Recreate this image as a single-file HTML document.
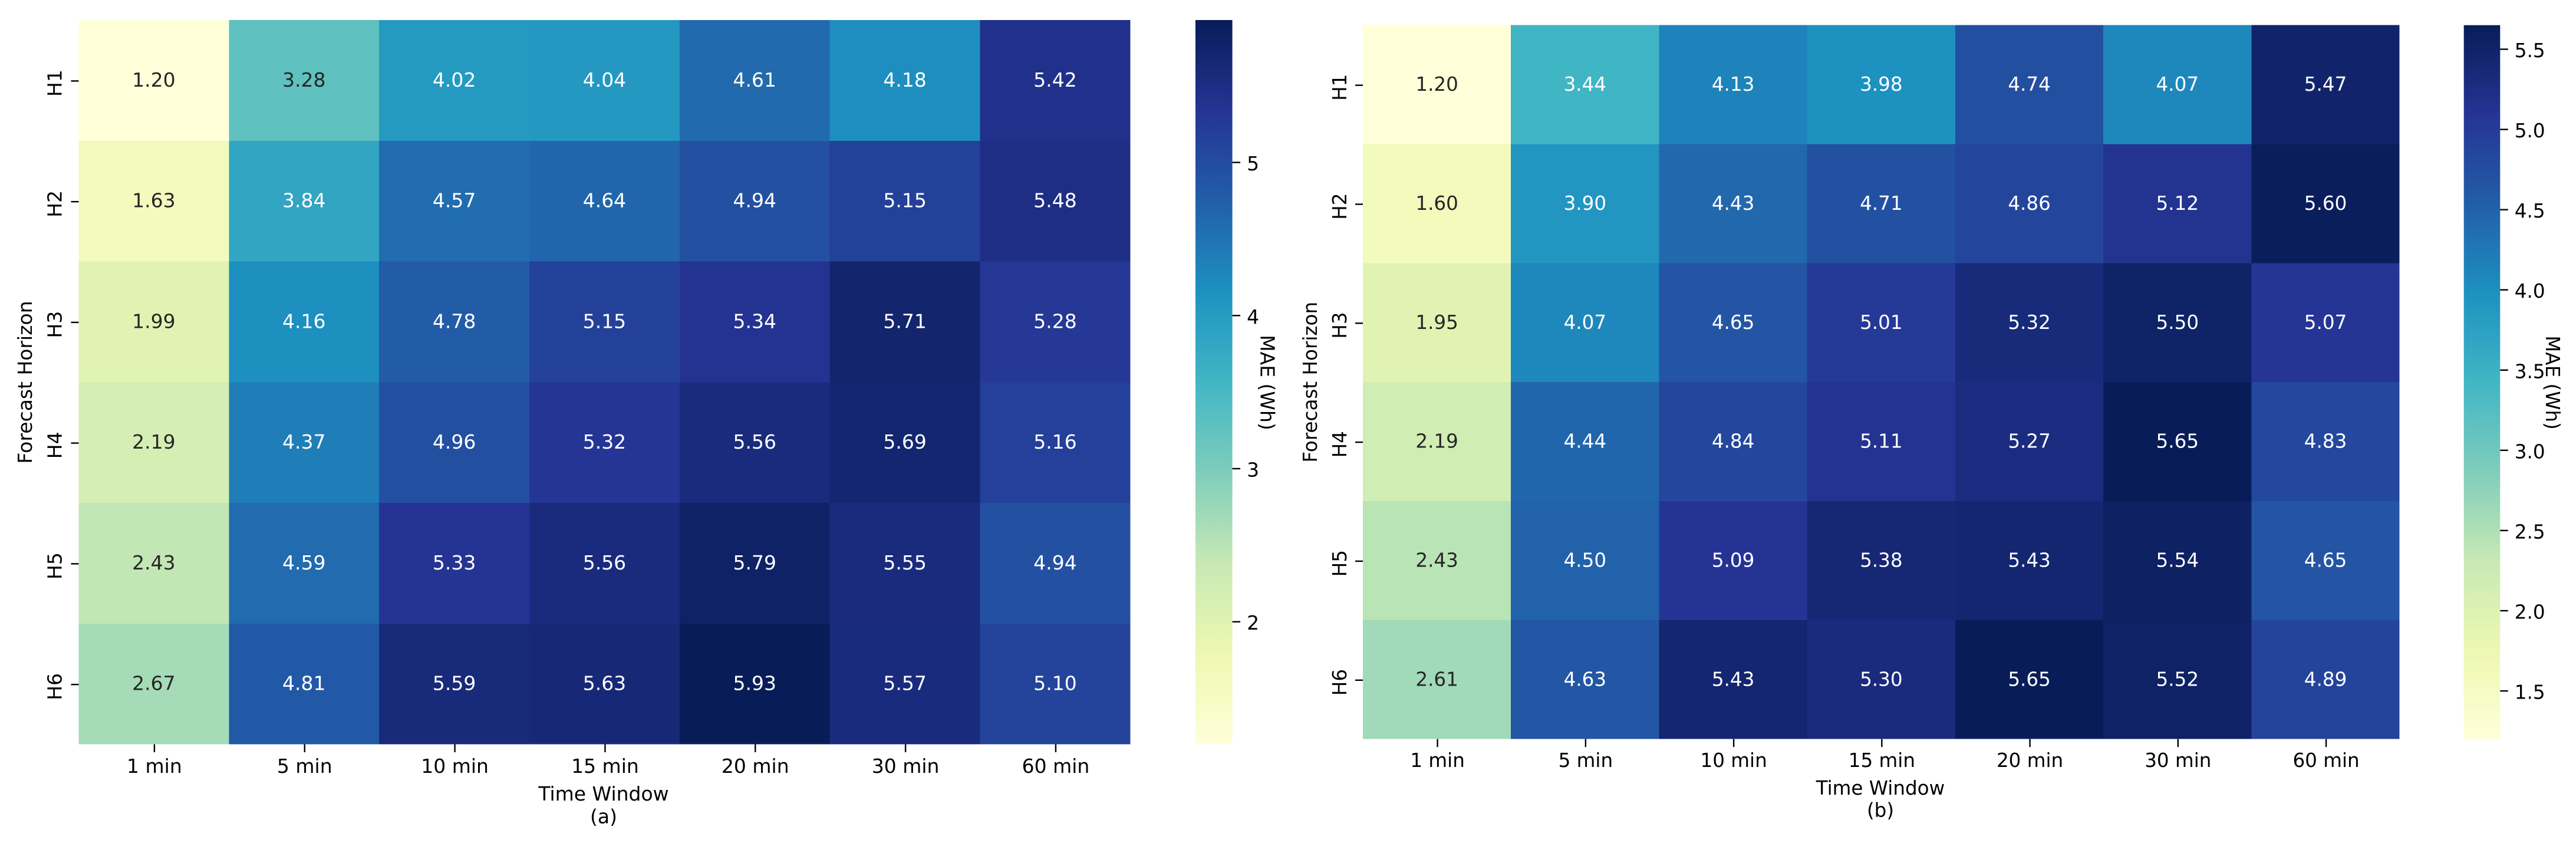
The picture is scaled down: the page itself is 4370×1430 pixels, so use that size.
<!DOCTYPE html>
<html lang="en">
<head>
<meta charset="utf-8">
<title>MAE heatmaps by forecast horizon and time window</title>
<style>
html,body{margin:0;padding:0;background:#fff;}
svg{display:block;}
text{font-family:"DejaVu Sans","Liberation Sans",sans-serif;fill:#000;}
</style>
</head>
<body>
<svg id="figure" xmlns="http://www.w3.org/2000/svg" width="4370" height="1430" viewBox="0 0 4370 1430">
  <rect x="0" y="0" width="4370" height="1430" fill="#ffffff"/>
  <defs>
    <linearGradient id="ylgnbu-gradient" x1="0" y1="1" x2="0" y2="0"></linearGradient>
  </defs>
  <g id="panel-a"></g>
  <g id="panel-b"></g>

  <text font-size="33" text-anchor="middle" transform="translate(54 648.5) rotate(-90)">Forecast Horizon</text>
  <text font-size="33" text-anchor="middle" x="1024" y="1358">Time Window</text>
  <text font-size="33" text-anchor="middle" x="1024" y="1396.7">(a)</text>
  <text font-size="33" text-anchor="middle" transform="translate(2138.7 649) rotate(90)">MAE (Wh)</text>

  <text font-size="32.6" text-anchor="middle" transform="translate(2234 648.3) rotate(-90)">Forecast Horizon</text>
  <text font-size="32.6" text-anchor="middle" x="3190" y="1348">Time Window</text>
  <text font-size="32.6" text-anchor="middle" x="3190" y="1385.7">(b)</text>
  <text font-size="32.6" text-anchor="middle" transform="translate(4319 649) rotate(90)">MAE (Wh)</text>
</svg>

<script>
const windows = ["1 min", "5 min", "10 min", "15 min", "20 min", "30 min", "60 min"];
const horizons = ["H1", "H2", "H3", "H4", "H5", "H6"];

const maeA = [
  [1.20, 3.28, 4.02, 4.04, 4.61, 4.18, 5.42],
  [1.63, 3.84, 4.57, 4.64, 4.94, 5.15, 5.48],
  [1.99, 4.16, 4.78, 5.15, 5.34, 5.71, 5.28],
  [2.19, 4.37, 4.96, 5.32, 5.56, 5.69, 5.16],
  [2.43, 4.59, 5.33, 5.56, 5.79, 5.55, 4.94],
  [2.67, 4.81, 5.59, 5.63, 5.93, 5.57, 5.10]
];
const maeB = [
  [1.20, 3.44, 4.13, 3.98, 4.74, 4.07, 5.47],
  [1.60, 3.90, 4.43, 4.71, 4.86, 5.12, 5.60],
  [1.95, 4.07, 4.65, 5.01, 5.32, 5.50, 5.07],
  [2.19, 4.44, 4.84, 5.11, 5.27, 5.65, 4.83],
  [2.43, 4.50, 5.09, 5.38, 5.43, 5.54, 4.65],
  [2.61, 4.63, 5.43, 5.30, 5.65, 5.52, 4.89]
];
const colorbarTicksA = [2, 3, 4, 5];
const colorbarTickLabelsA = ["2", "3", "4", "5"];
const colorbarTicksB = [1.5, 2.0, 2.5, 3.0, 3.5, 4.0, 4.5, 5.0, 5.5];
const colorbarTickLabelsB = ["1.5", "2.0", "2.5", "3.0", "3.5", "4.0", "4.5", "5.0", "5.5"];
const ylgnbu = ["#ffffd9", "#edf8b1", "#c7e9b4", "#7fcdbb", "#41b6c4", "#1d91c0", "#225ea8", "#253494", "#081d58"];

const SVG_NS = "http://www.w3.org/2000/svg";

function hexToRgb(hex) {
  return [1, 3, 5].map(function (i) { return parseInt(hex.substr(i, 2), 16); });
}

function colorAt(t) {
  const clamped = Math.max(0, Math.min(1, t));
  const index = Math.min(255, Math.floor(clamped * 256)) / 255;
  const pos = index * (ylgnbu.length - 1);
  const low = Math.min(ylgnbu.length - 2, Math.floor(pos));
  const frac = pos - low;
  const a = hexToRgb(ylgnbu[low]);
  const b = hexToRgb(ylgnbu[low + 1]);
  return a.map(function (c, i) { return Math.round(c + (b[i] - c) * frac); });
}

function luminance(rgb) {
  const lin = rgb.map(function (c) {
    const v = c / 255;
    return v <= 0.03928 ? v / 12.92 : Math.pow((v + 0.055) / 1.055, 2.4);
  });
  return 0.2126 * lin[0] + 0.7152 * lin[1] + 0.0722 * lin[2];
}

function make(parent, tag, props, content) {
  const node = document.createElementNS(SVG_NS, tag);
  Object.keys(props).forEach(function (key) { node.setAttribute(key, props[key]); });
  if (content !== undefined) { node.textContent = content; }
  parent.appendChild(node);
  return node;
}

const gradient = document.getElementById("ylgnbu-gradient");
ylgnbu.forEach(function (color, i) {
  make(gradient, "stop", { offset: i / (ylgnbu.length - 1), "stop-color": color });
});

function drawPanel(cfg) {
  const group = document.getElementById(cfg.groupId);
  const flat = cfg.values.reduce(function (all, row) { return all.concat(row); }, []);
  const vmin = Math.min.apply(null, flat);
  const vmax = Math.max.apply(null, flat);
  const cellW = (cfg.right - cfg.left) / windows.length;
  const cellH = (cfg.bottom - cfg.top) / horizons.length;
  const xScale = function (col) { return cfg.left + col * cellW; };
  const yScale = function (row) { return cfg.top + row * cellH; };
  const norm = function (v) { return (v - vmin) / (vmax - vmin); };
  const cbarY = function (v) { return cfg.bottom - norm(v) * (cfg.bottom - cfg.top); };

  cfg.values.forEach(function (rowValues, r) {
    rowValues.forEach(function (value, c) {
      const rgb = colorAt(norm(value));
      const cell = make(group, "rect", {
        x: xScale(c), y: yScale(r), width: cellW, height: cellH,
        fill: "rgb(" + rgb.join(",") + ")", "shape-rendering": "crispEdges"
      });
      
      
      const label = make(group, "text", {
        x: xScale(c + 0.5), y: yScale(r + 0.5) + 10.5,
        "text-anchor": "middle", "font-size": cfg.font,
        style: "fill:" + (luminance(rgb) > 0.408 ? "#262626" : "#ffffff")
      }, value.toFixed(2));
      
      
    });
  });

  windows.forEach(function (name, c) {
    const tx = xScale(c + 0.5) + 1;
    const tick = make(group, "line", {
      x1: tx, x2: tx, y1: cfg.bottom, y2: cfg.bottom + 13.5,
      stroke: "#000", "stroke-width": 2.4
    });
    
    
    const label = make(group, "text", {
      x: tx, y: cfg.xLabelY, "text-anchor": "middle", "font-size": cfg.font
    }, name);
    
    
  });

  horizons.forEach(function (name, r) {
    const ty = yScale(r + 0.5) + 1;
    const tick = make(group, "line", {
      x1: cfg.left - 13, x2: cfg.left, y1: ty, y2: ty,
      stroke: "#000", "stroke-width": 2.4
    });
    
    
    const label = make(group, "text", {
      "text-anchor": "middle", "font-size": cfg.font,
      transform: "translate(" + cfg.yLabelX + " " + (ty + 3.7) + ") rotate(-90)"
    }, name);
    
    
  });

  const bar = make(group, "rect", {
    x: cfg.cbarLeft, y: cfg.top, width: cfg.cbarRight - cfg.cbarLeft,
    height: cfg.bottom - cfg.top, fill: "url(#ylgnbu-gradient)"
  });
  
  

  cfg.cbarTicks.forEach(function (value, i) {
    const ty = cbarY(value);
    const tick = make(group, "line", {
      x1: cfg.cbarRight, x2: cfg.cbarRight + 13.5, y1: ty, y2: ty,
      stroke: "#000", "stroke-width": 2.4
    });
    
    
    const label = make(group, "text", {
      x: cfg.cbarRight + 24.5, y: ty + 13.5, "font-size": cfg.font
    }, cfg.cbarLabels[i]);
    
    
  });
}

drawPanel({
  groupId: "panel-a", values: maeA, cbarTicks: colorbarTicksA, cbarLabels: colorbarTickLabelsA,
  left: 133.5, right: 1917.4, top: 34, bottom: 1262.5,
  cbarLeft: 2028, cbarRight: 2090.6, font: 33, xLabelY: 1311, yLabelX: 104.7
});
drawPanel({
  groupId: "panel-b", values: maeB, cbarTicks: colorbarTicksB, cbarLabels: colorbarTickLabelsB,
  left: 2312, right: 4070.7, top: 42.7, bottom: 1253.7,
  cbarLeft: 4179.7, cbarRight: 4241.3, font: 32.6, xLabelY: 1301, yLabelX: 2284
});
</script>
</body>
</html>
